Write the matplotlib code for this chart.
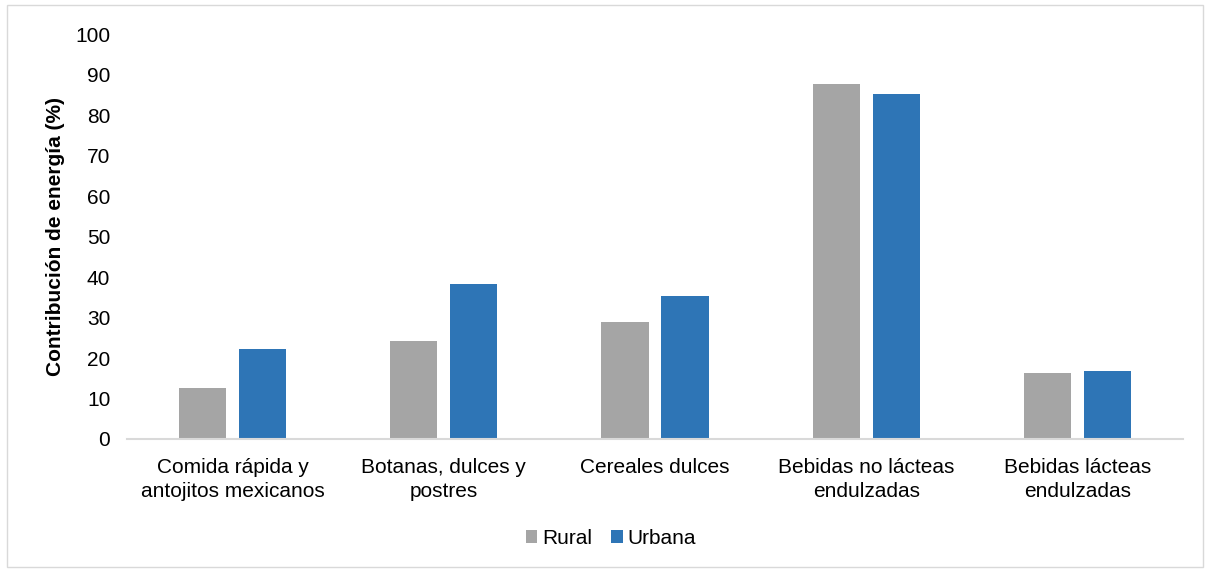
import matplotlib.pyplot as plt
import numpy as np
from matplotlib.patches import Rectangle

plt.rcParams['font.family'] = ['Liberation Sans', 'DejaVu Sans']

categorias = ["Comida rápida y\nantojitos mexicanos", "Botanas, dulces y\npostres",
              "Cereales dulces", "Bebidas no lácteas\nendulzadas", "Bebidas lácteas\nendulzadas"]
rural = [12.6, 24.3, 28.9, 87.7, 16.3]
urbana = [22.2, 38.3, 35.2, 85.3, 16.9]
yticks = [0, 10, 20, 30, 40, 50, 60, 70, 80, 90, 100]

fig = plt.figure(figsize=(12.05, 5.69), dpi=100)
ax = fig.add_axes([0.1054, 0.2285, 0.8763, 0.7115])

x = np.arange(len(categorias))
ancho = 0.223
desp = 0.142
ax.bar(x - desp, rural, ancho, color='#a5a5a5', label='Rural')
ax.bar(x + desp, urbana, ancho, color='#2e75b6', label='Urbana')

ax.set_xlim(-0.5, len(categorias) - 0.5)
ax.set_ylim(0, 100)
ax.set_yticks(yticks)
ax.set_xticks(x)
ax.set_xticklabels(categorias, fontsize=15, linespacing=1.3)
ax.tick_params(axis='both', length=0, labelsize=15)
ax.tick_params(axis='x', pad=14)
ax.tick_params(axis='y', pad=12)

for s in ['top', 'right', 'left']:
    ax.spines[s].set_visible(False)
ax.spines['bottom'].set_color('#d9d9d9')
ax.spines['bottom'].set_linewidth(1.5)

ax.set_ylabel("Contribución de energía (%)", fontsize=15, fontweight='bold', labelpad=7)

fig.legend(loc='center', bbox_to_anchor=(0.507, 0.054), ncol=2, frameon=False, fontsize=15,
           handlelength=0.55, handleheight=0.55, handletextpad=0.25, columnspacing=0.9)

# borde del grafico
fig.patches.append(Rectangle((0.006, 0.004), 0.992, 0.987, transform=fig.transFigure,
                             fill=False, edgecolor='#d9d9d9', linewidth=1))

fig.savefig('out.png', dpi=100)
